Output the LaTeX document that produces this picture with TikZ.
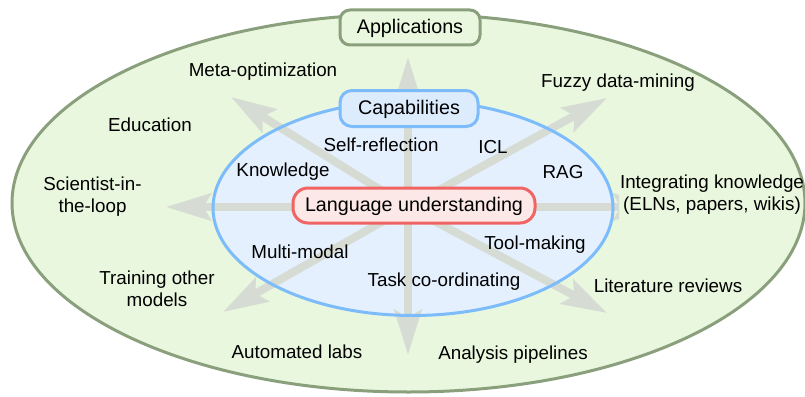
\documentclass[tikz,border=0pt]{standalone}
\usepackage{fontspec}
\setmainfont{Liberation Sans}
\usetikzlibrary{arrows.meta}
\definecolor{ogfill}{RGB}{233,247,222}
\definecolor{ogline}{RGB}{138,160,125}
\definecolor{ibfill}{RGB}{228,240,253}
\definecolor{ibline}{RGB}{125,188,250}
\definecolor{capfill}{RGB}{220,236,252}
\definecolor{rdfill}{RGB}{253,232,232}
\definecolor{rdline}{RGB}{240,100,100}
\definecolor{arrowgray}{RGB}{214,220,212}
\begin{document}
\begin{tikzpicture}[x=1pt,y=-1pt,
  item/.style={font=\fontsize{18.8pt}{22pt}\selectfont, inner sep=0pt, align=center},
  hdr/.style={font=\fontsize{19.7pt}{22pt}\selectfont, line width=3pt, text height=13pt, text depth=1pt, inner sep=0pt},
  ray/.style={draw=arrowgray, line width=8pt, -{Stealth[length=45pt,width=27pt,inset=8pt]}},
]
\useasboundingbox (0,0) rectangle (805,396);
% outer ellipse
\draw[ogline, fill=ogfill, line width=3pt] (408.5,203) ellipse [x radius=396.5, y radius=189];
\node[hdr, draw=ogline, fill=ogfill, rounded corners=10pt, minimum width=140pt, minimum height=35pt] (apps) at (410,27.5) {Applications};
% inner ellipse fill
\fill[ibfill] (413,208) ellipse [x radius=200, y radius=107.5];
% rays
\coordinate (c) at (408,207);
\coordinate (tN) at (408,57);
\coordinate (tNE) at (607,98);
\coordinate (tE) at (658,207);
\coordinate (tSE) at (607,313);
\coordinate (tS) at (408,355);
\coordinate (tSW) at (223,312);
\coordinate (tW) at (166,207);
\coordinate (tNW) at (231,97);
\foreach \t in {tN,tNE,tSE,tS,tSW,tW,tNW} \draw[ray] (c) -- (\t);
\begin{scope}
  \clip (0,0) rectangle (619,396);
  \draw[ray] (c) -- (tE);
\end{scope}
% inner ellipse stroke
\draw[ibline, line width=3pt] (413,208) ellipse [x radius=200, y radius=107.5];
\node[hdr, draw=ibline, fill=capfill, rounded corners=12pt, minimum width=138pt, minimum height=36pt] (caps) at (409,108.5) {Capabilities};
\node[hdr, draw=rdline, fill=rdfill, rounded corners=15pt, minimum width=242pt, minimum height=35pt] (lang) at (414,205.5) {Language understanding};
% applications
\node[item, anchor=base] (meta) at (263,76.5) {Meta-optimization};
\node[item, anchor=base] (fuzzy) at (618,87.5) {Fuzzy data-mining};
\node[item, anchor=base] (edu) at (150,131.5) {Education};
\node[item] (sci) at (92.5,197) {Scientist-in-\\the-loop};
\node[item] (integ) at (712,195) {Integrating knowledge\\(ELNs, papers, wikis)};
\node[item] (train) at (157,289) {Training other\\models};
\node[item, anchor=base] (lit) at (668,292.5) {Literature reviews};
\node[item, anchor=base] (auto) at (297,358.5) {Automated labs};
\node[item, anchor=base] (anal) at (513,359.5) {Analysis pipelines};
% capabilities
\node[item, anchor=base] (self) at (381,151.5) {Self-reflection};
\node[item, anchor=base] (icl) at (493,153.5) {ICL};
\node[item, anchor=base] (know) at (283,176.5) {Knowledge};
\node[item, anchor=base] (rag) at (563,178.5) {RAG};
\node[item, anchor=base] (multi) at (300,258.5) {Multi-modal};
\node[item, anchor=base] (tool) at (535,249.5) {Tool-making};
\node[item, anchor=base] (task) at (444,286.5) {Task co-ordinating};
\end{tikzpicture}
\end{document}
